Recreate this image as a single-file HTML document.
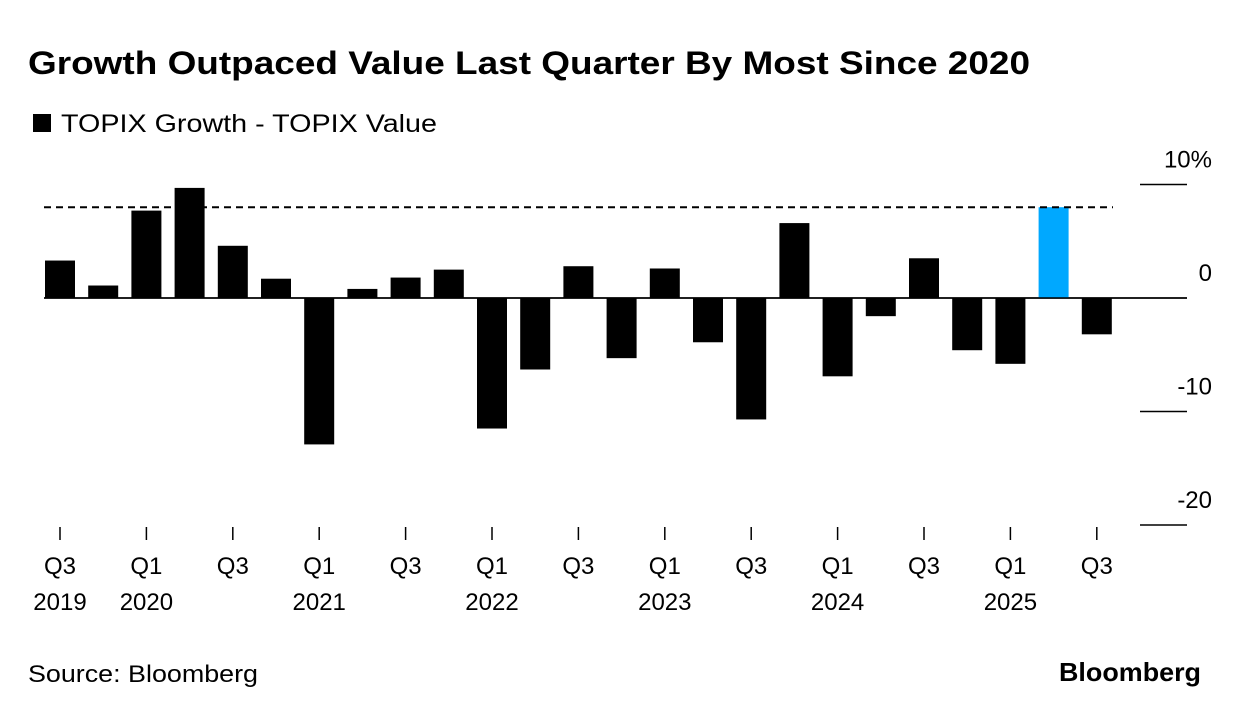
<!DOCTYPE html>
<html><head><meta charset="utf-8"><style>
body{margin:0;background:#fff;width:1240px;height:716px;overflow:hidden;font-family:"Liberation Sans",sans-serif;}
</style></head><body>
<svg width="1240" height="716" xmlns="http://www.w3.org/2000/svg">
<text x="28" y="74" font-size="32" font-weight="bold" fill="#000" textLength="1002" lengthAdjust="spacingAndGlyphs">Growth Outpaced Value Last Quarter By Most Since 2020</text>
<rect x="33" y="114" width="18" height="18" fill="#000"/>
<text x="61" y="132" font-size="25" fill="#000" textLength="376" lengthAdjust="spacingAndGlyphs">TOPIX Growth - TOPIX Value</text>
<g id="plot"></g>
<text x="28" y="682" font-size="24" fill="#000" textLength="230" lengthAdjust="spacingAndGlyphs">Source: Bloomberg</text>
<text x="1201" y="681" font-size="26" font-weight="bold" text-anchor="end" fill="#000" textLength="142" lengthAdjust="spacingAndGlyphs">Bloomberg</text>
</svg>
<script>
const values=[3.3,1.1,7.7,9.7,4.6,1.7,-12.9,0.8,1.8,2.5,-11.5,-6.3,2.8,-5.3,2.6,-3.9,-10.7,6.6,-6.9,-1.6,3.5,-4.6,-5.8,8.0,-3.2];
const quarterLabels=["Q3","","Q1","","Q3","","Q1","","Q3","","Q1","","Q3","","Q1","","Q3","","Q1","","Q3","","Q1","","Q3"];
const yearLabels=["2019","","2020","","","","2021","","","","2022","","","","2023","","","","2024","","","","2025","",""];
const yTicks=[10,0,-10,-20];
const refLine=8.0;
const highlightIndex=23;
const NS="http://www.w3.org/2000/svg";
const g=document.getElementById('plot');
const y=v=>298-v*11.35;
const x=i=>60+i*43.2;
function el(t,a){const e=document.createElementNS(NS,t);for(const k in a)e.setAttribute(k,a[k]);g.appendChild(e);return e;}
yTicks.forEach(t=>{
  const l=el('line',{x1:t===0?44:1140,x2:1187,y1:y(t),y2:y(t),stroke:'#000','stroke-width':1.5});
  
  
  const tx=el('text',{x:1212,y:y(t)-17,'font-size':24,'text-anchor':'end'});
  tx.textContent=t===10?'10%':String(t);
  
  
});
values.forEach((v,i)=>{
  const r=el('rect',{x:x(i)-15,width:30,y:Math.min(y(v),y(0)),height:Math.abs(y(v)-y(0)),fill:i===highlightIndex?'#00a8ff':'#000'});
  
  
  if(quarterLabels[i]){
    const tk=el('line',{x1:x(i),x2:x(i),y1:527,y2:540,stroke:'#000','stroke-width':1.5});
    
    
    const q=el('text',{x:x(i),y:574,'font-size':24,'text-anchor':'middle'});
    q.textContent=quarterLabels[i];
    
    
  }
  if(yearLabels[i]){
    const yr=el('text',{x:x(i),y:610,'font-size':24,'text-anchor':'middle'});
    yr.textContent=yearLabels[i];
    
    
  }
});
const z=el('line',{x1:44,x2:1187,y1:y(0),y2:y(0),stroke:'#000','stroke-width':1.5});


const d=el('line',{x1:44,x2:1113,y1:y(refLine),y2:y(refLine),stroke:'#000','stroke-width':2,'stroke-dasharray':'7,5'});


</script>
</body></html>
